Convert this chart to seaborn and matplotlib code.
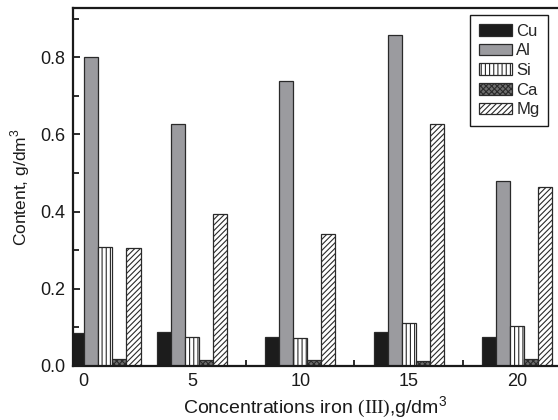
import numpy as np
import pandas as pd
import matplotlib
matplotlib.use("Agg")
import matplotlib.pyplot as plt
import seaborn as sns

# Measured contents (g/dm3) for each iron(III) concentration
concentrations = [0, 5, 10, 15, 20]
elements = ["Cu", "Al", "Si", "Ca", "Mg"]
cu = [0.085, 0.088, 0.074, 0.088, 0.075]
al = [0.800, 0.628, 0.739, 0.859, 0.479]
si = [0.309, 0.074, 0.073, 0.110, 0.104]
ca = [0.018, 0.015, 0.015, 0.012, 0.017]
mg = [0.305, 0.395, 0.341, 0.626, 0.463]
xtick_values = [0, 5, 10, 15, 20]

series = dict(zip(elements, [cu, al, si, ca, mg]))
rows = []
for el, vals in series.items():
    for c, v in zip(concentrations, vals):
        rows.append({"conc": c, "element": el, "content": v})
df = pd.DataFrame(rows)
# the 0 g/dm3 group is drawn one unit to the right so it clears the left spine
df["xpos"] = df["conc"].where(df["conc"] > 0, 1.0).astype(float)

sns.set_theme(style="ticks")
plt.rcParams["font.family"] = ["Liberation Sans", "DejaVu Sans"]
plt.rcParams["mathtext.fontset"] = "custom"
plt.rcParams["mathtext.rm"] = "Liberation Serif"
plt.rcParams["mathtext.sf"] = "Liberation Sans"
plt.rcParams["hatch.linewidth"] = 0.8

fig = plt.figure(figsize=(5.58, 4.20), dpi=100)
ax = fig.add_axes([0.130, 0.129, 0.870, 0.851])

styles = {
    "Cu": dict(fc="#1c1c1c", hatch=None),
    "Al": dict(fc="#9b9b9f", hatch=None),
    "Si": dict(fc="white", hatch="||||"),
    "Ca": dict(fc="#6e6e6e", hatch="xxxxxx"),
    "Mg": dict(fc="white", hatch="//////"),
}

sns.barplot(data=df, x="xpos", y="content", hue="element", hue_order=elements,
            native_scale=True, width=0.81, gap=0, errorbar=None,
            legend=False, ax=ax)

for cont, el in zip(ax.containers, elements):
    st = styles[el]
    for p in cont.patches:
        p.set_facecolor(st["fc"])
        p.set_edgecolor("#2a2a2a")
        p.set_linewidth(0.9)
        if st["hatch"]:
            p.set_hatch(st["hatch"])

ax.set_xlim(-0.52, 21.9)
ax.set_ylim(0, 0.927)
ax.set_xticks(xtick_values)
ax.set_xticklabels([str(v) for v in xtick_values])
ax.set_xticks(np.arange(2.5, 21, 5), minor=True)
ax.set_yticks(np.arange(0, 0.81, 0.2))
ax.set_yticklabels([f"{v:.1f}" for v in np.arange(0, 0.81, 0.2)])
ax.set_yticks(np.arange(0.1, 0.92, 0.2), minor=True)

ax.tick_params(axis="both", which="both", direction="in", color="#1a1a1a",
               width=1.3, labelsize=13, labelcolor="#1a1a1a")
ax.tick_params(axis="both", which="major", length=5, pad=5)
ax.tick_params(axis="both", which="minor", length=4)
ax.tick_params(axis="x", which="both", top=False)
ax.tick_params(axis="y", which="both", right=False)

for side in ["left", "bottom", "top"]:
    ax.spines[side].set_linewidth(1.6)
    ax.spines[side].set_color("#1a1a1a")
ax.spines["right"].set_visible(False)

ax.set_xlabel(r"Concentrations iron $\mathrm{(III)}$,g/dm$^\mathsf{3}$",
              fontsize=14, color="#1a1a1a", labelpad=3)
ax.set_ylabel(r"Content, g/dm$^\mathsf{3}$", fontsize=12.5, color="#1a1a1a",
              labelpad=6)

leg = ax.legend(ax.containers, elements, loc="upper right",
                bbox_to_anchor=(0.979, 0.981), bbox_transform=ax.transAxes,
                fontsize=12, frameon=True, fancybox=False, shadow=False,
                handlelength=2.0, handleheight=0.7, handletextpad=0.25,
                labelspacing=0.28, borderpad=0.5, borderaxespad=0)
leg.get_frame().set_edgecolor("#1a1a1a")
leg.get_frame().set_linewidth(1.0)
leg.get_frame().set_alpha(1)

fig.savefig("out.png", dpi=100)
